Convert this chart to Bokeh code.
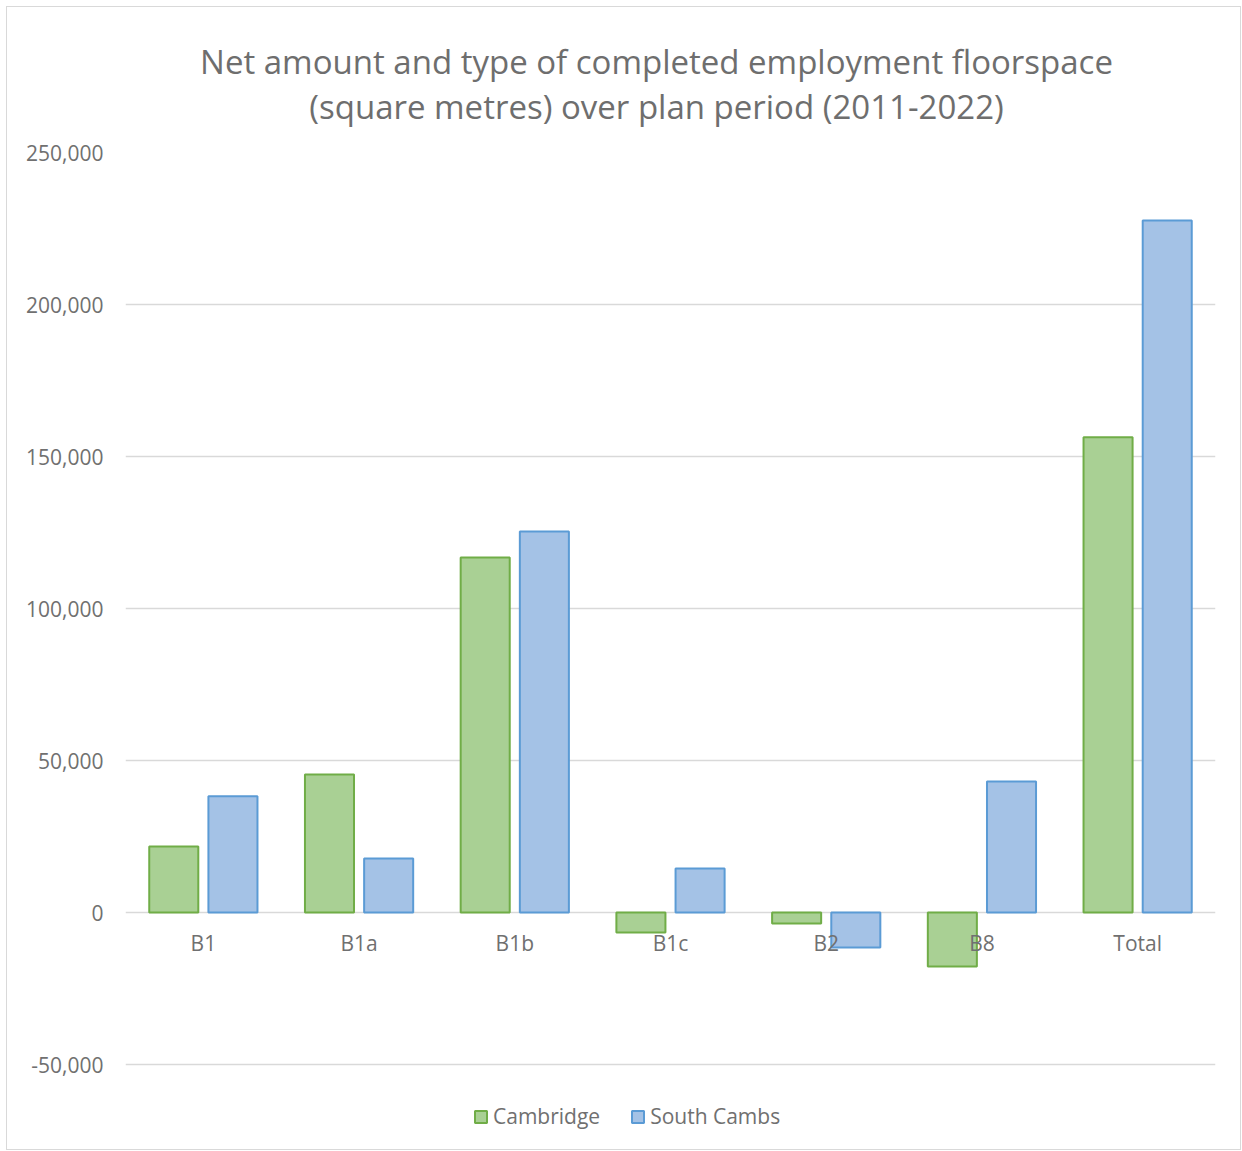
from bokeh.plotting import figure
from bokeh.models import FactorRange, Range1d, FixedTicker, NumeralTickFormatter, Legend, LegendItem, Title, ColumnDataSource
from bokeh.transform import dodge
from bokeh.core.properties import value
from bokeh.embed import file_html
from bokeh.resources import INLINE

categories = ["B1", "B1a", "B1b", "B1c", "B2", "B8", "Total"]
cambridge = [21700, 45400, 116800, -6600, -3600, -17800, 156300]
south_cambs = [38200, 17800, 125300, 14500, -11500, 43100, 227600]
y_ticks = [-50000, 0, 50000, 100000, 150000, 200000, 250000]
title_lines = ["Net amount and type of completed employment floorspace",
               "(square metres) over plan period (2011-2022)"]

FONT = "Open Sans"
GREY = "#707070"

# layout: 250,000 at frame top, frame bottom extends below -50,000 to host the legend
frame_h = 993
px_per_unit = 760 / 250000
y_top = 250000
y_bottom = y_top - frame_h / px_per_unit

src = ColumnDataSource(dict(cat=categories, cam=cambridge, sc=south_cambs, zero=[0] * len(categories)))

p = figure(width=1235, height=1144, x_range=FactorRange(*categories),
           y_range=Range1d(y_bottom, y_top), output_backend="svg", toolbar_location=None,
           x_axis_location=None, min_border_left=118, min_border_right=27,
           min_border_top=145, min_border_bottom=6)
p.margin = (6, 0, 0, 6)
p.styles = {"border": "1px solid #d9d9d9"}
p.outline_line_color = None
p.background_fill_color = "white"
p.border_fill_color = "white"

p.title = Title(text="\n".join(title_lines), align="center", standoff=48, text_font=FONT,
                text_font_size="33px", text_color="#6e6e6e", text_font_style="normal",
                text_align="center", text_line_height=1.0, padding=(0, 28, 0, 0))

p.yaxis.ticker = FixedTicker(ticks=y_ticks)
p.yaxis.formatter = NumeralTickFormatter(format="0,0")
p.yaxis.axis_line_color = None
p.yaxis.major_tick_line_color = None
p.yaxis.minor_tick_line_color = None
p.yaxis.major_label_standoff = 16
p.yaxis.major_label_text_font = FONT
p.yaxis.major_label_text_font_size = "21px"
p.yaxis.major_label_text_color = GREY

p.xgrid.grid_line_color = None
p.ygrid.grid_line_color = "#d9d9d9"
p.ygrid.grid_line_width = 1.5

r1 = p.vbar(x=dodge("cat", -0.19, range=p.x_range), top="cam", bottom="zero", width=0.315, source=src,
            fill_color="#a9d094", line_color="#70ad47", line_width=2)
r2 = p.vbar(x=dodge("cat", 0.19, range=p.x_range), top="sc", bottom="zero", width=0.315, source=src,
            fill_color="#a4c2e6", line_color="#5b9bd5", line_width=2)

p.text(x="cat", y="zero", text="cat", source=src, y_offset=30, text_align="center",
       text_baseline="middle", text_font=value(FONT), text_font_size="21px", text_color=GREY)

legend = Legend(items=[LegendItem(label="Cambridge", renderers=[r1]),
                       LegendItem(label="South Cambs", renderers=[r2])],
                location=(348, 15), orientation="horizontal", border_line_color=None,
                background_fill_alpha=0, label_text_font=FONT, label_text_font_size="21px",
                label_text_color=GREY, glyph_width=15, glyph_height=15, spacing=30,
                label_standoff=5, margin=0, padding=4)
p.add_layout(legend)

open("out.html", "w").write(file_html(p, INLINE))
